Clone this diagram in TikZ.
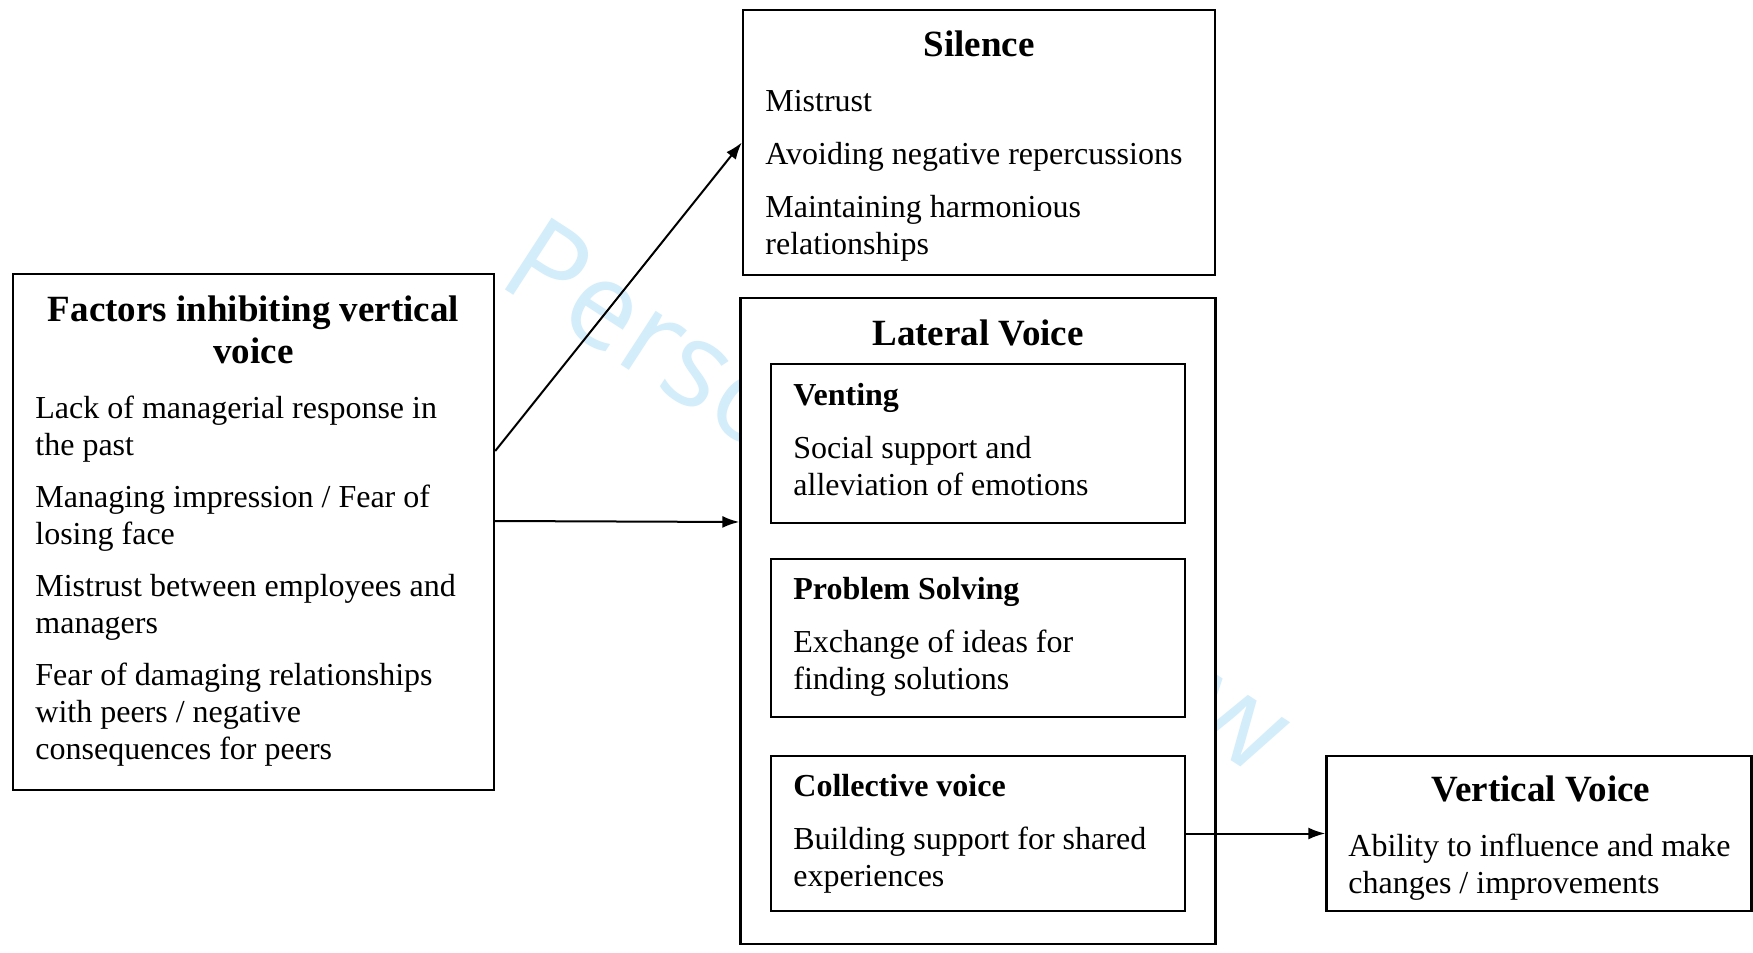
\documentclass[tikz,border=0pt]{standalone}
\usepackage{fontspec}
\setmainfont{Liberation Serif}
\newfontfamily\markfont{Open Sans}
\usetikzlibrary{arrows.meta}
\definecolor{markblue}{RGB}{212,237,250}

\begin{document}
\begin{tikzpicture}[x=0.5pt, y=-0.5pt,
		box/.style={draw, line width=1.2pt, fill=white, inner sep=0pt},
		txt/.style={anchor=base west, align=left, inner sep=0pt, font=\fontsize{16}{18.5}\selectfont},
		ttl/.style={anchor=base, align=center, inner sep=0pt, font=\fontsize{18.5}{21}\selectfont\bfseries},
		arr/.style={-{Latex[length=8.5pt,width=6pt]}, line width=1pt}]
		%%%%% START %%%%%
		
		\useasboundingbox (0,0) rectangle (1753,953);
		
		\node[anchor=base west, rotate=-33, inner sep=0pt, text=markblue, font=\markfont\fontsize{60}{62}\selectfont] (mark) at (495,283) {Personal Review};
		
		% text nodes sit on the baseline of their last line
		\node[box, minimum width=240.5pt, minimum height=258pt] (factors) at (253.5,532) {};
		\node[ttl] (factorstitle) at (253.5,363) {Factors inhibiting vertical\\voice};
		\node[txt] (factorslist) at (35,759) {Lack of managerial response in\\the past\\[7.5pt]
			Managing impression / Fear of\\losing face\\[7.5pt]
			Mistrust between employees and\\managers\\[7.5pt]
			Fear of damaging relationships\\with peers / negative\\consequences for peers};
		
		\node[box, minimum width=236pt, minimum height=132.5pt] (silence) at (979,142.5) {};
		\node[ttl] (silencetitle) at (979,56) {Silence};
		\node[txt] (silencelist) at (765,254) {Mistrust\\[8pt] Avoiding negative repercussions\\[8pt]
			Maintaining harmonious\\relationships};
		
		\node[box, minimum width=237.5pt, minimum height=323pt] (lateral) at (978,621) {};
		\node[ttl] (lateraltitle) at (978,345) {Lateral Voice};
		
		\node[box, minimum width=207pt, minimum height=79.5pt] (venting) at (978,443.5) {};
		\node[txt] (ventingtext) at (793,495) {\textbf{Venting}\\[8pt] Social support and\\alleviation of emotions};
		
		\node[box, minimum width=207pt, minimum height=79pt] (solving) at (978,638) {};
		\node[txt] (solvingtext) at (793,689.5) {\textbf{Problem Solving}\\[8pt] Exchange of ideas for\\finding solutions};
		
		\node[box, minimum width=207pt, minimum height=77.5pt] (collective) at (978,833.5) {};
		\node[txt] (collectivetext) at (793,886) {\textbf{Collective voice}\\[8pt] Building support for shared\\experiences};
		
		\node[box, minimum width=212.5pt, minimum height=77.5pt] (vertical) at (1539,833.5) {};
		\node[ttl] (verticaltitle) at (1541,801) {Vertical Voice};
		\node[txt] (verticaltext) at (1348,893) {Ability to influence and make\\changes / improvements};
		
		\draw[arr] ([yshift=40.5pt]factors.east) -- (silence.west);
		\draw[arr] ([yshift=5.5pt]factors.east) -- ([yshift=49.5pt]lateral.west);
		\draw[arr] (collective.east) -- (vertical.west);
		
		%%%%% END %%%%%
	\end{tikzpicture}
\end{document}
